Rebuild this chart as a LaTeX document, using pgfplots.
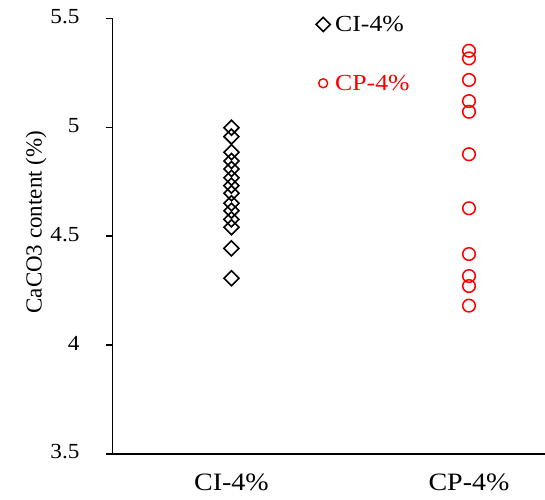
\documentclass[border=0pt]{standalone}
\usepackage{pgfplots}
\pgfplotsset{compat=1.18}
\usepackage{fontspec}
\setmainfont{Liberation Serif}
\newfontfamily\widefont[FakeStretch=1.12]{Liberation Serif}
\newfontfamily\tickfont[FakeStretch=1.08]{Liberation Serif}
\usetikzlibrary{calc}
\pgfplotstableread{
x y
1 4.998
1 4.957
1 4.885
1 4.845
1 4.808
1 4.768
1 4.732
1 4.697
1 4.651
1 4.617
1 4.577
1 4.541
1 4.444
1 4.307
}\ciData
\pgfplotstableread{
x y
2 5.351
2 5.316
2 5.217
2 5.120
2 5.071
2 4.876
2 4.628
2 4.418
2 4.317
2 4.271
2 4.181
}\cpData
\begin{document}
\begin{tikzpicture}
\begin{axis}[
  name=ax,
  scale only axis, width=432.3pt, height=435.7pt,
  xmin=0.5, xmax=2.32, ymin=3.5, ymax=5.5,
  axis x line*=bottom, axis y line*=left,
  axis line style={-},
  x axis line style={line width=2.2pt},
  y axis line style={line width=1.4pt},
  xtick={1,2},
  xticklabels={CI-4\%, \raisebox{-4.6pt}{CP-4\%}},
  xtick style={draw=none},
  x tick label style={font=\fontsize{25}{29}\widefont, anchor=north, inner sep=0pt, yshift=-13pt},
  ytick={3.5,4,4.5,5,5.5},
  yticklabels={3.5,4,4.5,5,5.5},
  tick align=outside, major tick length=7pt,
  ytick style={line width=1.4pt, black},
  y tick label style={font=\fontsize{21.5}{25}\tickfont, anchor=east, inner sep=0pt, xshift=-26pt, yshift=2pt},
  every axis y label/.style={at={(axis description cs:-0.1642,0.532)}, anchor=base, rotate=90, font=\fontsize{23}{27}\selectfont, inner sep=0pt},
  ylabel={CaCO3 content (\%)},
  legend style={at={(axis cs:1.339,5.525)}, anchor=north west, draw=none, fill=none,
    font=\fontsize{23}{27}\widefont, row sep=40pt, nodes={inner sep=1pt}},
  legend cell align=left,
  legend image code/.code={\path[draw=none,fill=none] (-8pt,0pt) -- (11pt,0pt); \draw[#1] plot coordinates {(0pt,0pt)};},
]
\addplot[only marks, mark=square, mark size=5.3pt, mark options={rotate=45, line width=1.6pt, black, solid}, forget plot] table[x=x,y=y] {\ciData};
\addplot[only marks, mark=o, mark size=6.3pt, mark options={line width=1.5pt, red, solid}, forget plot] table[x=x,y=y] {\cpData};
\addlegendimage{only marks, mark=square, mark size=5pt, mark options={rotate=45, line width=1.6pt, black, solid}}
\addlegendentry{CI-4\%}
\addlegendimage{only marks, mark=o, mark size=4.5pt, mark options={line width=1.4pt, red, solid}}
\addlegendentry{\textcolor{red}{CP-4\%}}
\end{axis}
\pgfresetboundingbox
\path ($(ax.south west)+(-112.7pt,-45pt)$) rectangle ($(ax.north east)+(0pt,18.3pt)$);
\end{tikzpicture}
\end{document}
